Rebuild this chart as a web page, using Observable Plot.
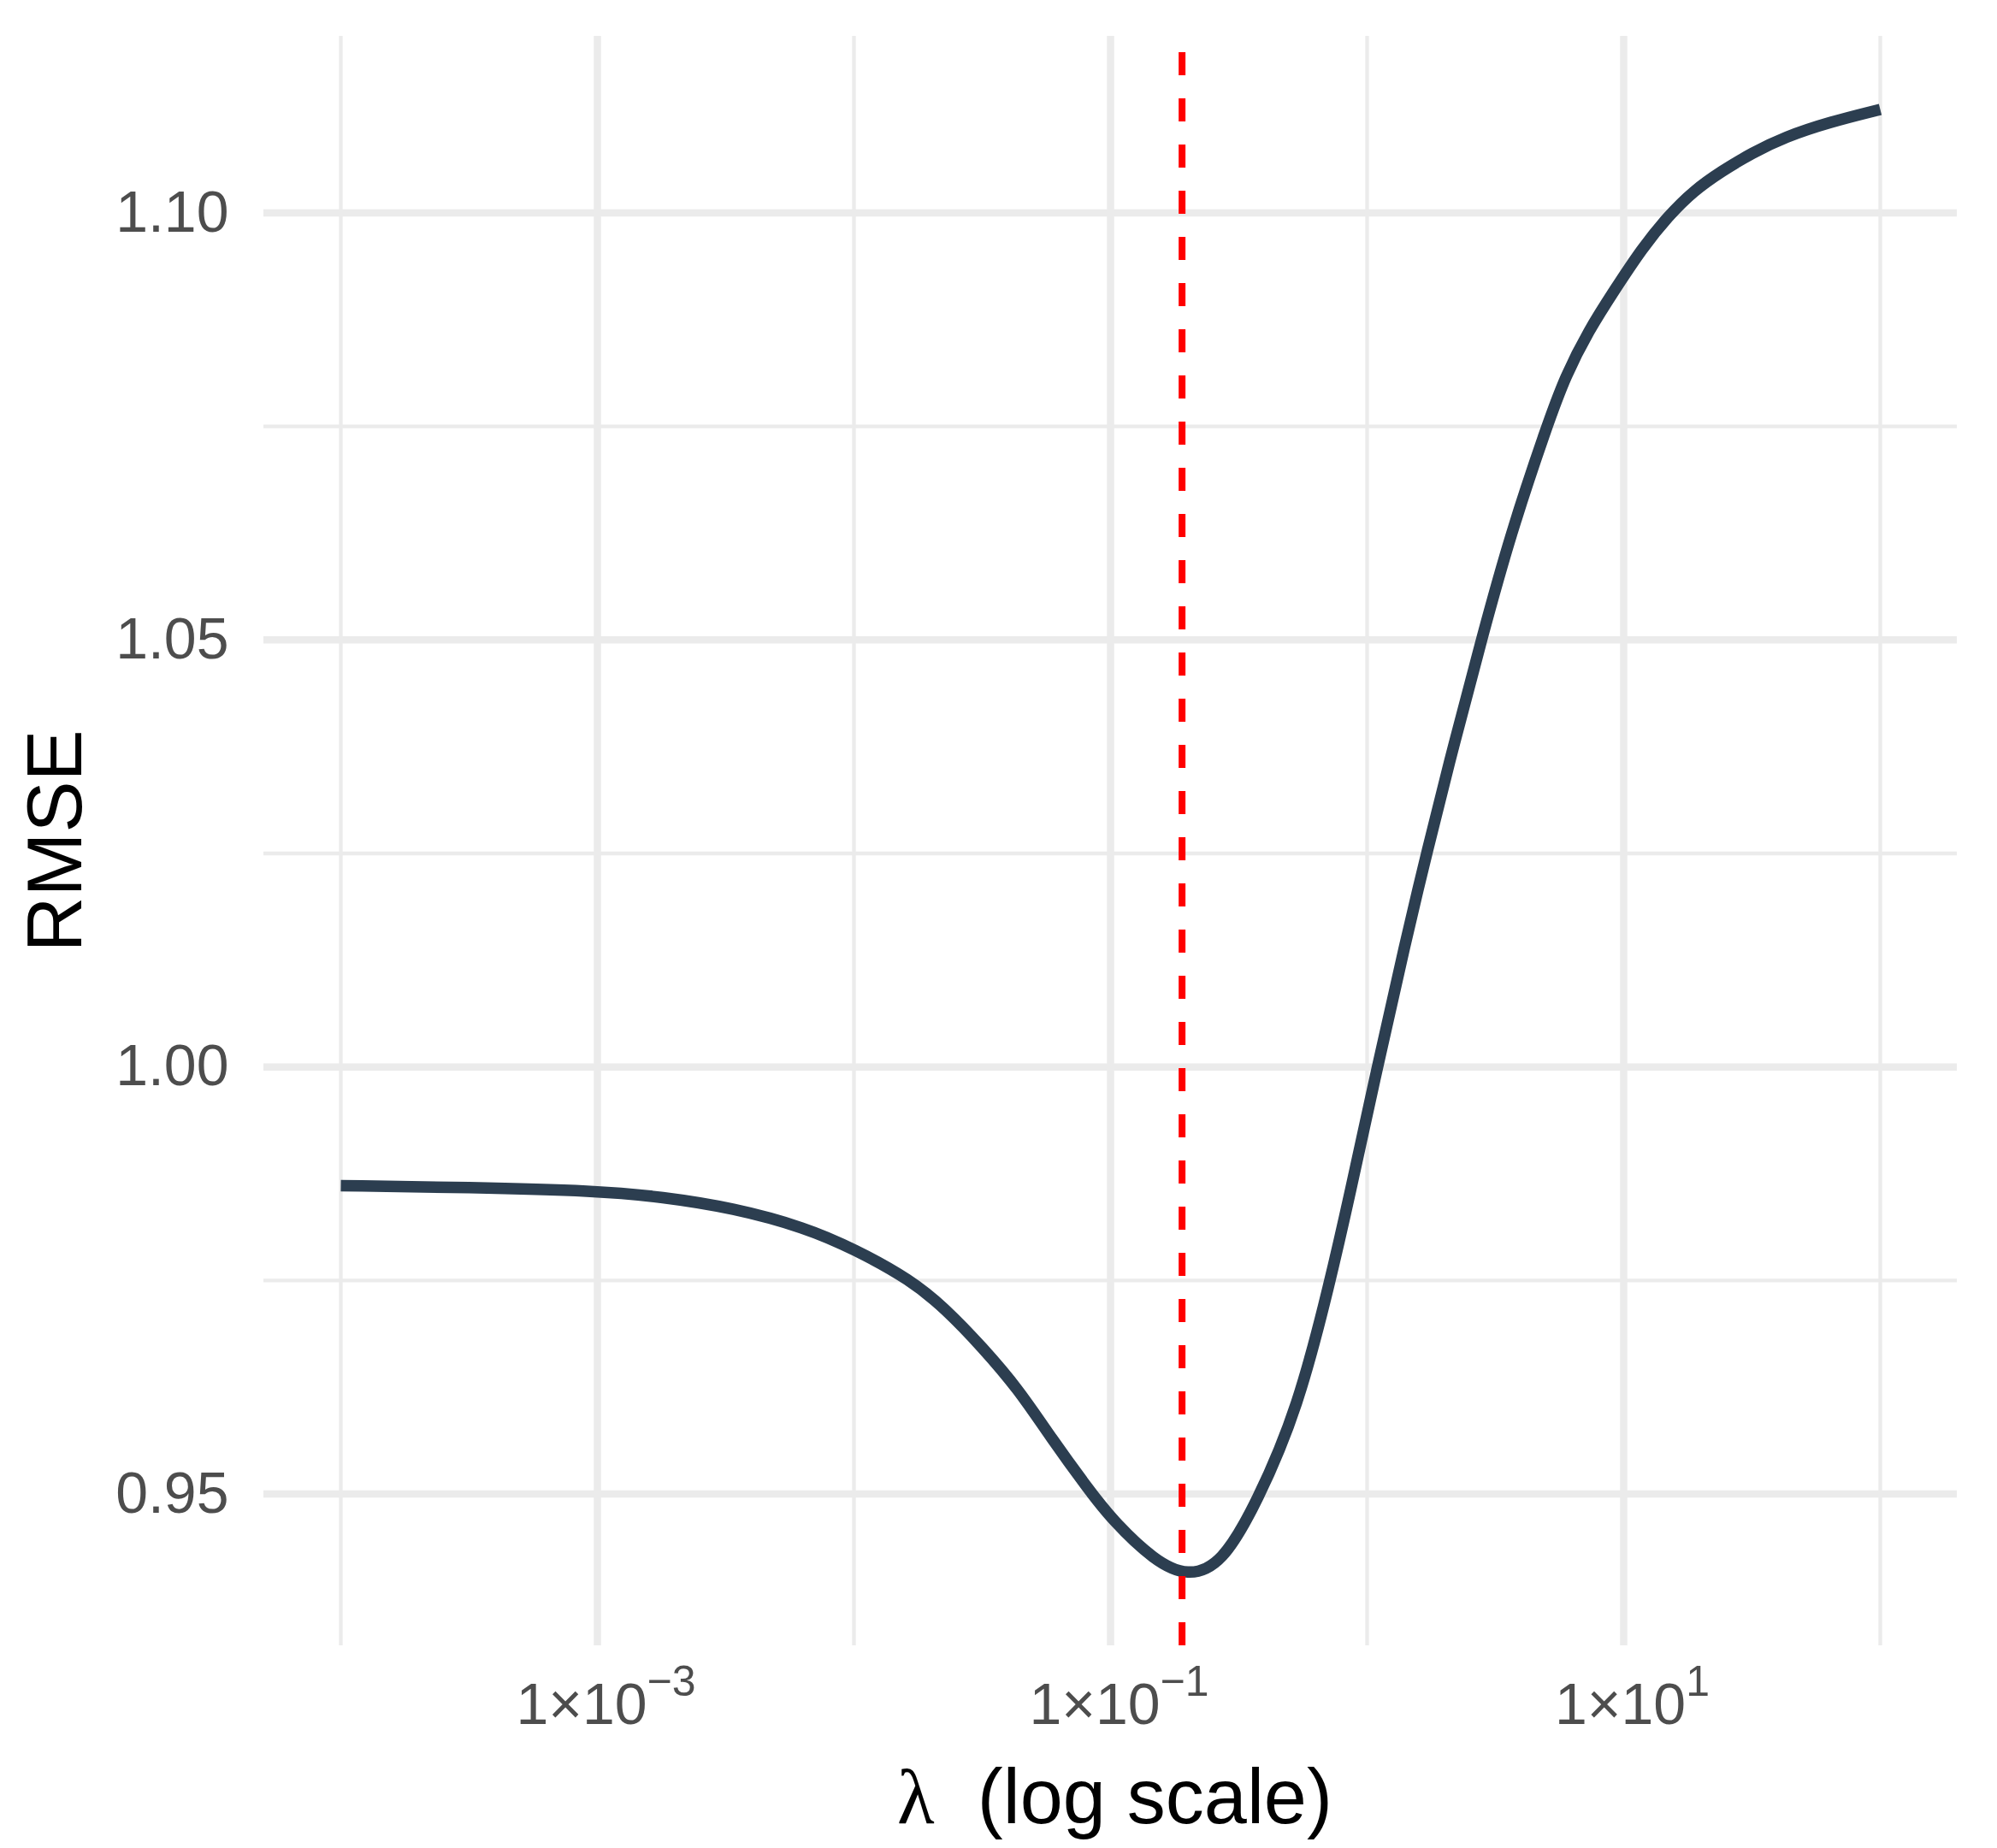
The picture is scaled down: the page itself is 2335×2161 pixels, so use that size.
<!DOCTYPE html>
<html>
<head>
<meta charset="utf-8">
<script src="https://cdn.jsdelivr.net/npm/d3@7"></script>
<script src="https://cdn.jsdelivr.net/npm/@observablehq/plot@0.6"></script>
<style>
  html, body { margin: 0; padding: 0; background: #ffffff; }
  #chart svg { display: block; }
</style>
</head>
<body>
<div id="chart"></div>
<script>
// ---- data ----
const lambda = [0.0001, 0.000316, 0.001, 0.00178, 0.00339, 0.00646, 0.01, 0.0166, 0.0229, 0.0316,
  0.0437, 0.0589, 0.0813, 0.102, 0.148, 0.200, 0.272, 0.372, 0.537, 0.719, 0.851, 1.096, 1.413,
  1.698, 2.188, 2.818, 3.606, 5.012, 5.929, 7.295, 9.183, 11.83, 14.89, 18.75, 24.15, 31.62,
  42.66, 63.10, 100];
const rmse = [0.9861, 0.9859, 0.9855, 0.9848, 0.9835, 0.9812, 0.9787, 0.9751, 0.9716, 0.9672,
  0.9623, 0.9565, 0.9507, 0.9469, 0.9422, 0.9403, 0.9418, 0.9490, 0.9600, 0.9750, 0.9847, 1.0000, 1.0147,
  1.0248, 1.0380, 1.0505, 1.0622, 1.0750, 1.0809, 1.0862, 1.0909, 1.0959, 1.0996, 1.1026, 1.1049, 1.1070,
  1.1089, 1.1106, 1.1121];
const bestLambda = [0.19];
const majorX = [1e-3, 1e-1, 1e1];
const majorXLabels = ["1×10|−3", "1×10|−1", "1×10|1"];
const minorX = [1e-4, 1e-2, 1, 1e2];
const majorY = [0.95, 1.00, 1.05, 1.10];
const minorY = [0.975, 1.025, 1.075];
const xTitle = "λ  (log scale)";
const yTitle = "RMSE";

const data = lambda.map((l, i) => ({lambda: l, rmse: rmse[i]}));

// ggplot-like 5% expansion
const lx = d3.extent(lambda).map(Math.log10);
const xPad = (lx[1] - lx[0]) * 0.05;
const xDomain = [Math.pow(10, lx[0] - xPad), Math.pow(10, lx[1] + xPad)];
const yLo = 0.9408, yHi = d3.max(rmse);
const yPad = (yHi - yLo) * 0.05;
const yDomain = [yLo - yPad, yHi + yPad];

const grid = "#EBEBEB";
const font = "'Liberation Sans', Arial, Helvetica, sans-serif";

const chart = Plot.plot({
  width: 2335,
  height: 2161,
  marginLeft: 308,
  marginRight: 47,
  marginTop: 42,
  marginBottom: 237,
  style: {fontFamily: font, background: "#ffffff", overflow: "visible"},
  x: {type: "log", domain: xDomain},
  y: {domain: yDomain},
  marks: [
    Plot.ruleX(minorX, {x: d => d, stroke: grid, strokeWidth: 4.3}),
    Plot.ruleY(minorY, {y: d => d, stroke: grid, strokeWidth: 4.3}),
    Plot.ruleX(majorX, {x: d => d, stroke: grid, strokeWidth: 8.5}),
    Plot.ruleY(majorY, {y: d => d, stroke: grid, strokeWidth: 8.5}),
    Plot.line(data, {x: "lambda", y: "rmse", stroke: "#2C3E50", strokeWidth: 13.5, curve: "basis", strokeLinecap: "butt", strokeLinejoin: "round"}),
    Plot.ruleX(bestLambda, {x: d => d, y1: () => yDomain[0], y2: () => yDomain[1], stroke: "#FF0000", strokeWidth: 8, strokeDasharray: "27,27"}),
    Plot.axisX(majorX, {tickSize: 0, tickPadding: 43, fontSize: 68, color: "#4D4D4D", label: null, dx: 10,
      tickFormat: d => majorXLabels[majorX.indexOf(d)]}),
    Plot.axisY(majorY, {tickSize: 0, tickPadding: 41, fontSize: 68, color: "#4D4D4D", label: null,
      tickFormat: d3.format(".2f")}),
    Plot.text([yTitle], {text: d => d, frameAnchor: "left", textAnchor: "middle", lineAnchor: "middle", dx: -242, rotate: -90, fontSize: 90, fill: "#000000"}),
    Plot.text([xTitle], {text: d => d, frameAnchor: "bottom", textAnchor: "middle", dx: 5, dy: 179, fontSize: 90, fill: "#000000", lineAnchor: "middle"})
  ]
});

// superscript exponents in x tick labels
chart.querySelectorAll('[aria-label="x-axis tick label"] text').forEach(t => {
  const s = t.textContent;
  if (!s.includes("|")) return;
  const [base, exp] = s.split("|");
  t.textContent = base;
  const ts = document.createElementNS("http://www.w3.org/2000/svg", "tspan");
  ts.setAttribute("dy", "-33");
  ts.setAttribute("font-size", "50");
  ts.textContent = exp;
  t.appendChild(ts);
});
// lambda in a serif face like the reference
chart.querySelectorAll('text').forEach(t => {
  if (t.textContent === xTitle) {
    t.textContent = "";
    const a = document.createElementNS("http://www.w3.org/2000/svg", "tspan");
    a.setAttribute("font-family", "'Liberation Serif', 'DejaVu Serif', serif");
    a.textContent = "λ";
    const b = document.createElementNS("http://www.w3.org/2000/svg", "tspan");
    b.textContent = xTitle.slice(1);
    t.setAttribute("xml:space", "preserve");
    t.style.whiteSpace = "pre";
    t.appendChild(a); t.appendChild(b);
  }
});

document.getElementById("chart").appendChild(chart);
</script>
</body>
</html>
